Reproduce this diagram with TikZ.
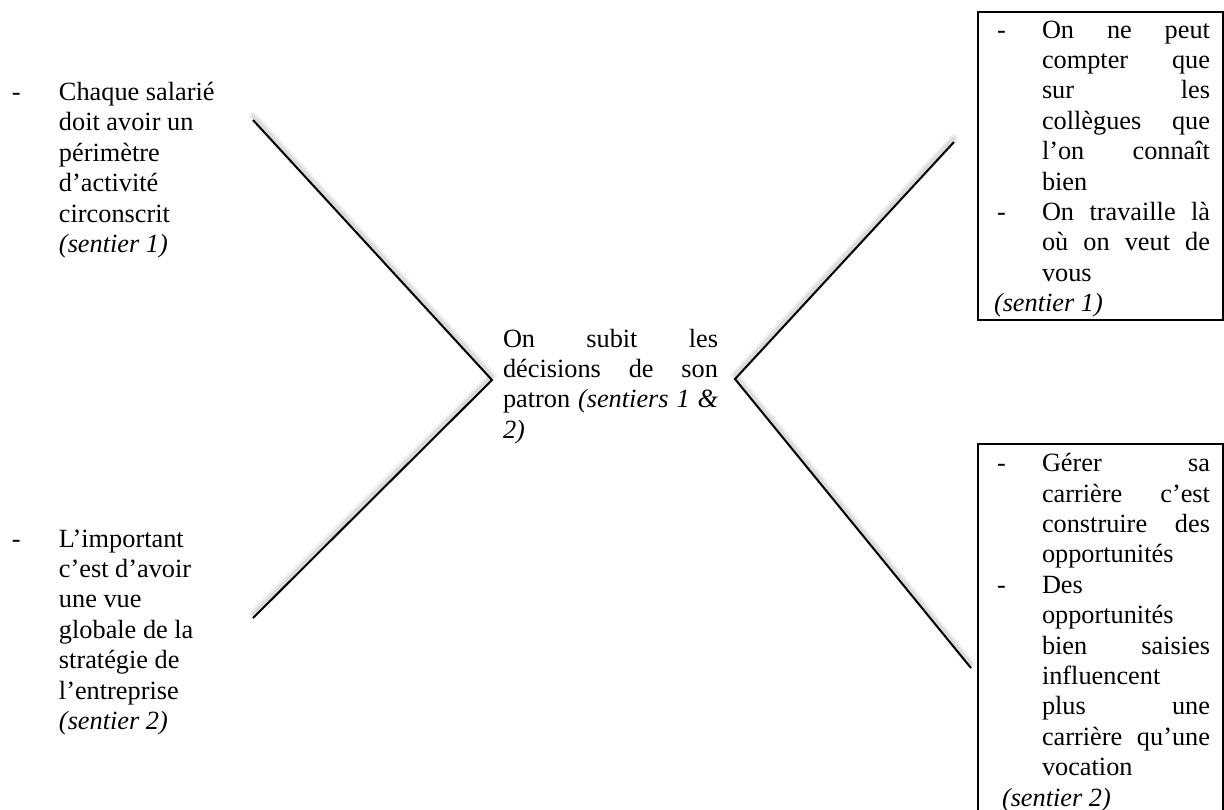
\documentclass[tikz,border=0pt]{standalone}
\usepackage{fontspec}
\setmainfont{Liberation Serif}

% text helpers: body size, justified line, list dash and hanging indent
\newcommand\bodytext{\fontsize{26.3}{30.4}\selectfont}
\newcommand\jline[2]{\makebox[#1][s]{#2}}
\newcommand\boxdash{\hspace*{3pt}\makebox[45pt][l]{-}}
\newcommand\boxind{\hspace*{48pt}}
\newcommand\sidedash{\makebox[47pt][l]{-}}
\newcommand\sideind{\hspace*{47pt}}

\tikzset{
  arm/.style={line width=2pt, black, line join=miter},
  txt/.style={anchor=base west, inner sep=0pt, outer sep=0pt},
  framebox/.style={draw=black, line width=2pt},
}

\begin{document}
\begin{tikzpicture}[x=1pt, y=-1pt]
  \useasboundingbox (0,0) rectangle (1224,809);
  \fill[white] (0,0) rectangle (1224,809);

  % end points of the two wedges
  \coordinate (ul) at (253,120);
  \coordinate (lv) at (492,380);
  \coordinate (ll) at (253,618);
  \coordinate (ur) at (954,142);
  \coordinate (rv) at (735,379);
  \coordinate (lr) at (971,668);

  % soft drop shadow under the wedges
  \foreach \w/\o in {10/0.018,8/0.022,6/0.028,4/0.035,2.5/0.04} {
    \draw[line width=\w pt, black, opacity=\o, line cap=round]
      ([yshift=4pt]ul) -- ([yshift=4pt]lv) -- ([yshift=4pt]ll);
    \draw[line width=\w pt, black, opacity=\o, line cap=round]
      ([yshift=4pt]ur) -- ([yshift=4pt]rv) -- ([yshift=4pt]lr);
  }
  \draw[arm] (ul) -- (lv) -- (ll);
  \draw[arm] (ur) -- (rv) -- (lr);

  % framed boxes on the right
  \draw[framebox] (978,12) rectangle (1223,320);
  \draw[framebox] (978,444) rectangle (1223,815);

  % upper left statement
  \node[txt] (tl) at (12,100.5) {\parbox[t]{230pt}{\bodytext
    \sidedash Chaque salarié\\
    \sideind doit avoir un\\
    \sideind périmètre\\
    \sideind d’activité\\
    \sideind circonscrit\\
    \sideind \textit{(sentier 1)}}};

  % lower left statement
  \node[txt] (bl) at (12,547) {\parbox[t]{230pt}{\bodytext
    \sidedash L’important\\
    \sideind c’est d’avoir\\
    \sideind une vue\\
    \sideind globale de la\\
    \sideind stratégie de\\
    \sideind l’entreprise\\
    \sideind \textit{(sentier 2)}}};

  % central statement
  \node[txt] (mid) at (503,347) {\parbox[t]{230pt}{\bodytext
    \jline{215pt}{On subit les}\\
    \jline{215pt}{décisions de son}\\
    \jline{215pt}{patron \textit{(sentiers 1 \&}}\\
    \textit{2)}}};

  % upper right box text
  \node[txt] (tr) at (994,38) {\parbox[t]{230pt}{\bodytext
    \boxdash\jline{168pt}{On ne peut}\\
    \boxind\jline{168pt}{compter que}\\
    \boxind\jline{168pt}{sur les}\\
    \boxind\jline{168pt}{collègues que}\\
    \boxind\jline{168pt}{l’on connaît}\\
    \boxind bien\\
    \boxdash\jline{168pt}{On travaille là}\\
    \boxind\jline{168pt}{où on veut de}\\
    \boxind vous\\
    \textit{(sentier 1)}}};

  % lower right box text
  \node[txt] (br) at (994,471.7) {\parbox[t]{230pt}{\bodytext
    \boxdash\jline{168pt}{Gérer sa}\\
    \boxind\jline{168pt}{carrière c’est}\\
    \boxind\jline{168pt}{construire des}\\
    \boxind opportunités\\
    \boxdash Des\\
    \boxind opportunités\\
    \boxind\jline{168pt}{bien saisies}\\
    \boxind influencent\\
    \boxind\jline{168pt}{plus une}\\
    \boxind\jline{168pt}{carrière qu’une}\\
    \boxind vocation\\
    \hspace*{8pt}\textit{(sentier 2)}}};
\end{tikzpicture}
\end{document}
